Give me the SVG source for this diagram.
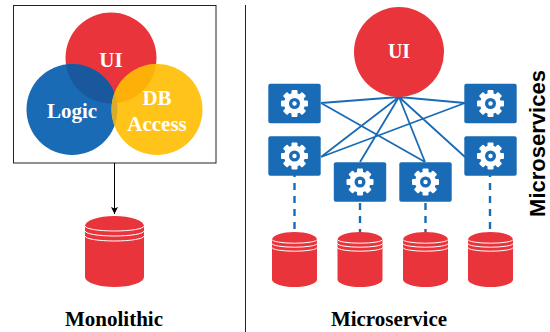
<svg xmlns="http://www.w3.org/2000/svg" width="550" height="332" viewBox="0 0 550 332">
<style>
.s{font-family:"Liberation Serif","Times New Roman",serif;font-weight:bold;text-anchor:middle}
.w{fill:#fff;font-size:21px}
.k{fill:#000;font-size:21px}
.tile{fill:#1a6bb5}
.link{stroke:#1a6bb5;stroke-width:1.8;fill:none}
.dash{stroke:#1a6bb5;stroke-width:2.4;fill:none;stroke-dasharray:7 6}
.cyl{fill:#e8343a}
.ring{fill:none;stroke:#fff;stroke-width:1}
</style>
<defs>
<marker id="arrow" markerWidth="10" markerHeight="10" refX="7" refY="4" orient="auto" markerUnits="userSpaceOnUse"><path d="M0 0.500L7 4L0 7.500L1.500 4Z" fill="#000"/></marker>
<clipPath id="clipUi"><circle cx="111" cy="58" r="45.500"/></clipPath>
<clipPath id="clipLogic"><circle cx="72" cy="109.500" r="45.500"/></clipPath>
<g id="gear">
<circle r="10.500" fill="#fff"/>
<g fill="#fff">
<rect x="-3" y="-13.500" width="6" height="5" rx="1"/>
<rect x="-3" y="-13.500" width="6" height="5" rx="1" transform="rotate(45)"/>
<rect x="-3" y="-13.500" width="6" height="5" rx="1" transform="rotate(90)"/>
<rect x="-3" y="-13.500" width="6" height="5" rx="1" transform="rotate(135)"/>
<rect x="-3" y="-13.500" width="6" height="5" rx="1" transform="rotate(180)"/>
<rect x="-3" y="-13.500" width="6" height="5" rx="1" transform="rotate(225)"/>
<rect x="-3" y="-13.500" width="6" height="5" rx="1" transform="rotate(270)"/>
<rect x="-3" y="-13.500" width="6" height="5" rx="1" transform="rotate(315)"/>
</g>
<circle r="5.500" fill="#1a6bb5"/>
<circle r="2.200" fill="#fff"/>
</g>
<g id="tile">
<rect x="-26.200" y="-19.700" width="52.400" height="39.400" rx="2" class="tile"/>
<use href="#gear"/>
</g>
<g id="db">
<path class="cyl" d="M-22.500 7.500A22.500 7.500 0 0 1 22.500 7.500V47.500A22.500 7.500 0 0 1 -22.500 47.500Z"/>
<path class="ring" d="M-22.500 7.500A22.500 3.700 0 0 0 22.500 7.500M-22.500 11.500A22.500 3.700 0 0 0 22.500 11.500M-22.500 15.500A22.500 3.700 0 0 0 22.500 15.500"/>
</g>
</defs>
<rect width="550" height="332" fill="#fff"/>

<g id="monolith-box"><rect x="13.500" y="5.500" width="202.500" height="157.500" fill="#fff" stroke="#222" stroke-width="1"/></g>
<g id="mono-ui"><circle cx="111" cy="58" r="45.500" fill="#e8343a"/></g>
<g id="mono-logic"><circle cx="72" cy="109.500" r="45.500" fill="#1a6bb5"/>
<circle cx="72" cy="109.500" r="45.500" fill="#1a589e" clip-path="url(#clipUi)"/></g>
<g id="mono-db"><circle cx="157" cy="109.500" r="45.500" fill="#ffc31a"/>
<circle cx="157" cy="109.500" r="45.500" fill="#fdb008" clip-path="url(#clipUi)"/>
<circle cx="157" cy="109.500" r="45.500" fill="#d9ab2a" clip-path="url(#clipLogic)"/></g>
<text class="s w" x="111" y="67">UI</text>
<text class="s w" x="72" y="118">Logic</text>
<text class="s w" x="157" y="105">DB</text>
<text class="s w" x="157" y="131">Access</text>
<g id="mono-db-store"><g transform="translate(114.500,216)"><path class="cyl" d="M-29.500 10A29.500 10 0 0 1 29.500 10V61A29.500 10 0 0 1 -29.500 61Z"/><path class="ring" d="M-29.500 10A29.500 5 0 0 0 29.500 10M-29.500 15A29.500 5 0 0 0 29.500 15M-29.500 20A29.500 5 0 0 0 29.500 20"/></g></g>

<line id="divider" x1="245.500" y1="5" x2="245.500" y2="332" stroke="#222" stroke-width="1"/>

<g id="connectors">
<line x1="114.500" y1="163" x2="114.500" y2="214" stroke="#000" stroke-width="1" marker-end="url(#arrow)"/>
<path class="link" d="M399 97L321 103M399 97L321 157M399 97L360 162M399 97L425 162M399 97L465 103M399 97L465 157M321 103L425 162M321 157L465 103"/>
<path class="dash" d="M294.500 170V232M360 190V232M425.500 190V232M490 170V232"/>
</g>

<g id="ms-ui"><circle cx="399" cy="52" r="45" fill="#e8343a"/><text class="s" x="399" y="58" fill="#fff" font-size="20">UI</text></g>
<g id="svc1"><use href="#tile" x="294.500" y="103.500"/></g>
<g id="svc2"><use href="#tile" x="294.500" y="156"/></g>
<g id="svc3"><use href="#tile" x="360" y="182"/></g>
<g id="svc4"><use href="#tile" x="425.500" y="182"/></g>
<g id="svc5"><use href="#tile" x="490.500" y="103.500"/></g>
<g id="svc6"><use href="#tile" x="490.500" y="156"/></g>
<g id="db1"><use href="#db" x="294.500" y="232"/></g>
<g id="db2"><use href="#db" x="360" y="232"/></g>
<g id="db3"><use href="#db" x="425.500" y="232"/></g>
<g id="db4"><use href="#db" x="490.500" y="232"/></g>

<text class="s k" x="114" y="326">Monolithic</text>
<text class="s k" x="389" y="326">Microservice</text>
<text x="545" y="143.500" transform="rotate(-90 545 143.500)" text-anchor="middle" font-family="'Liberation Sans',Arial,sans-serif" font-weight="bold" font-size="22" fill="#000">Microservices</text>
</svg>
